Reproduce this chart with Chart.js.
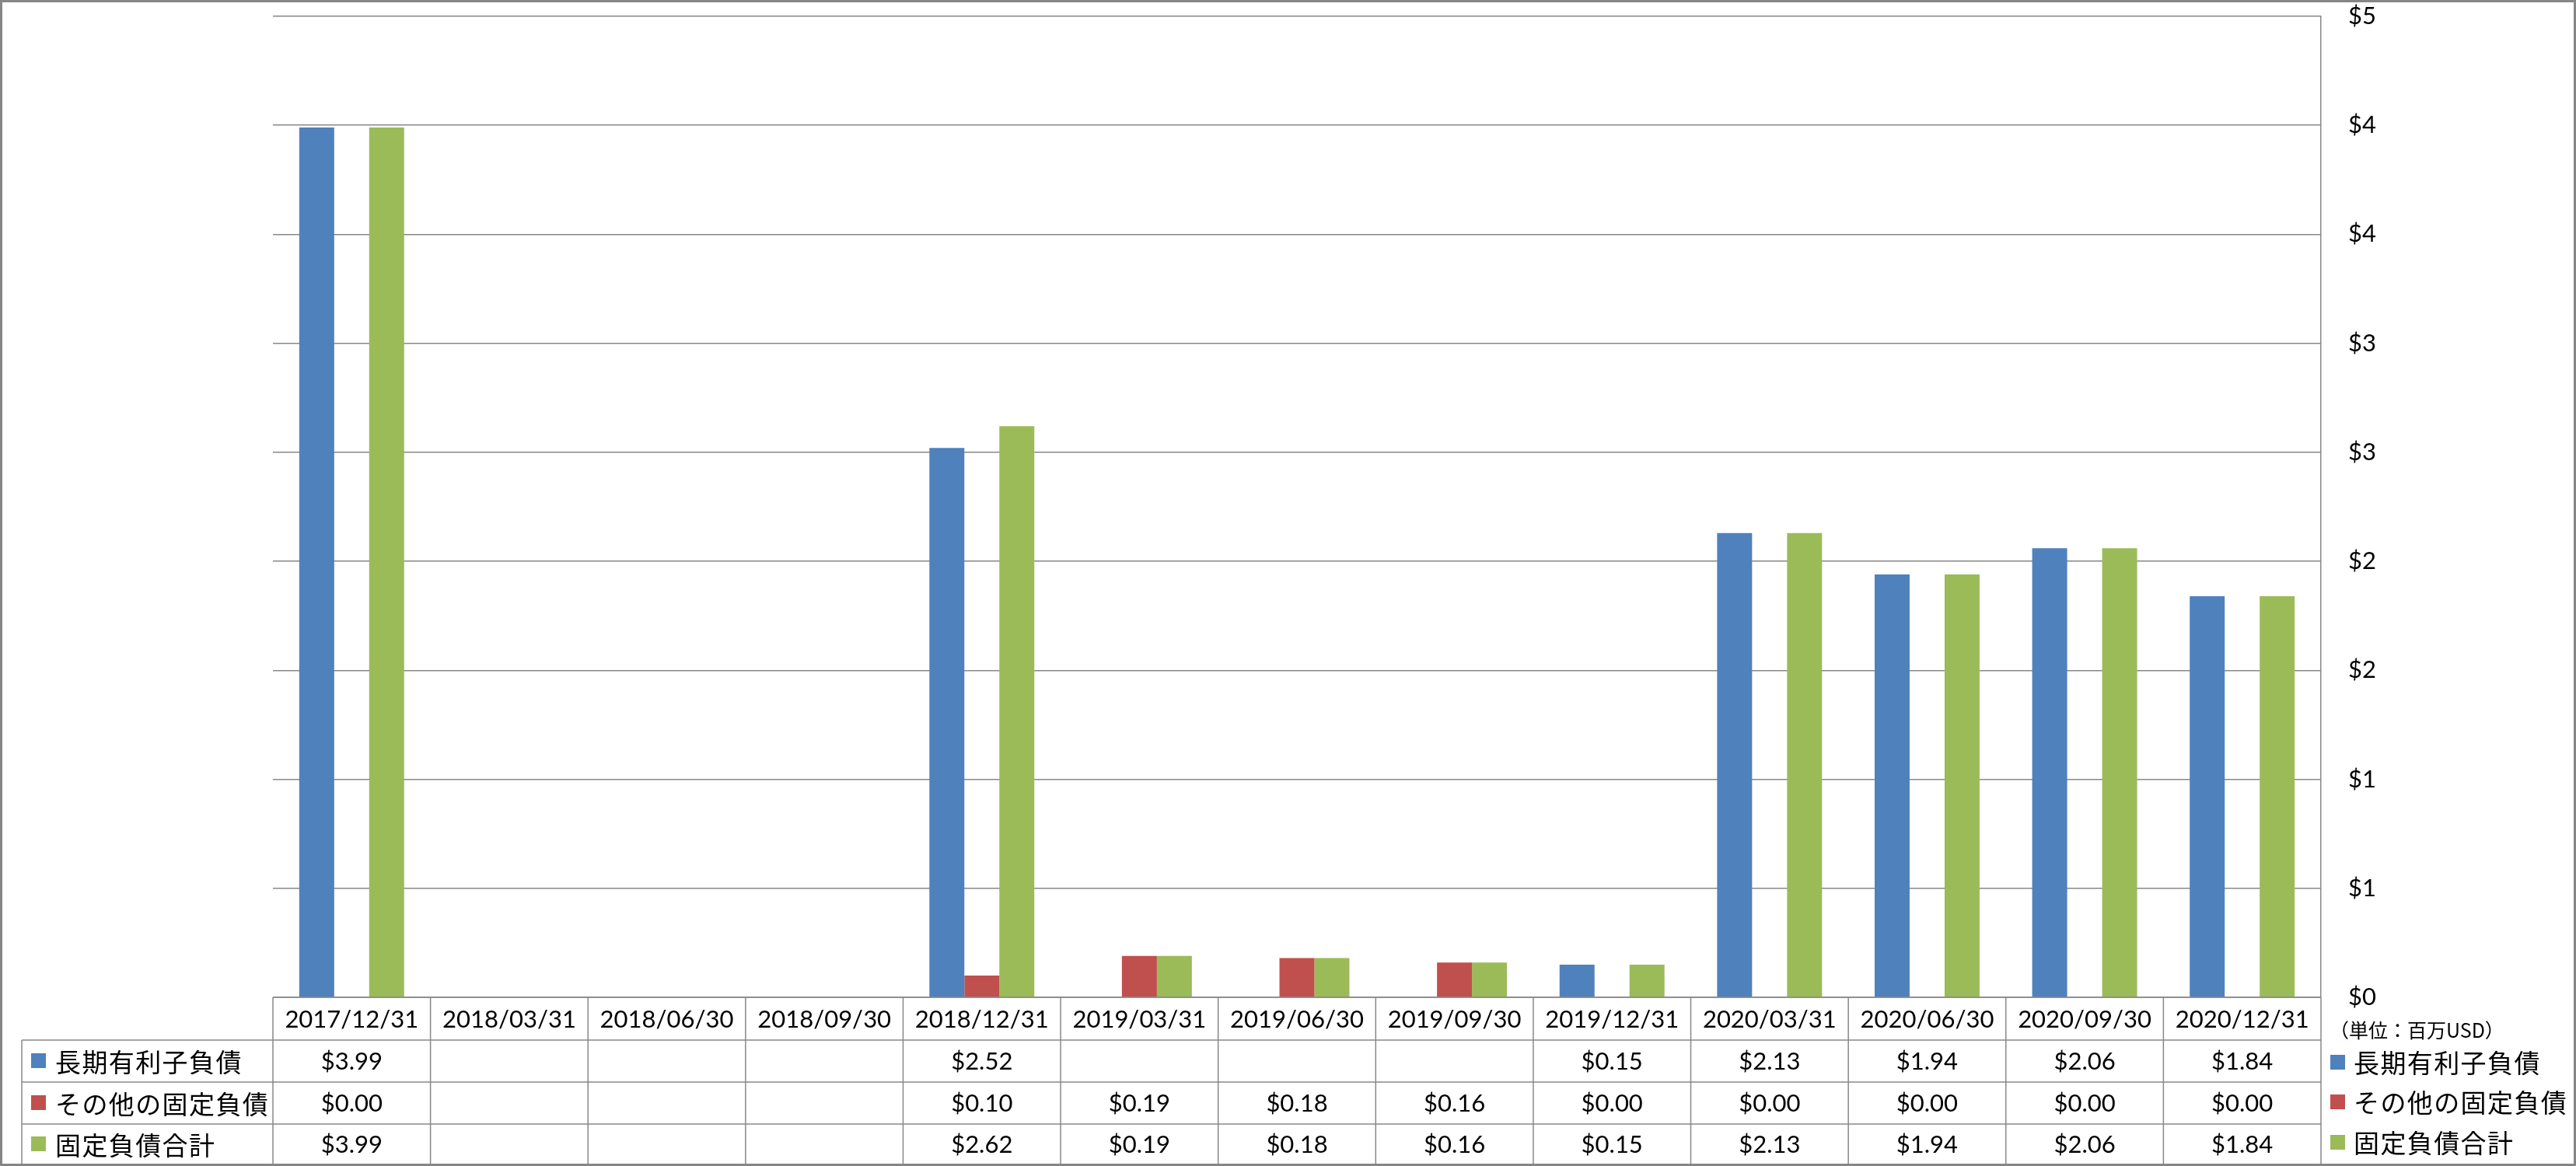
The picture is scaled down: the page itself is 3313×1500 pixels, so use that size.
<!DOCTYPE html>
<html>
<head>
<meta charset="utf-8">
<script src="https://cdn.jsdelivr.net/npm/chart.js@4.4.0/dist/chart.umd.min.js"></script>
<style>
  html, body { margin: 0; padding: 0; background: #fff; }
  canvas { display: block; }
</style>
</head>
<body>
<canvas id="debtChart" width="3313" height="1500"></canvas>
<script>
const periods = ['2017/12/31', '2018/03/31', '2018/06/30', '2018/09/30', '2018/12/31', '2019/03/31',
  '2019/06/30', '2019/09/30', '2019/12/31', '2020/03/31', '2020/06/30', '2020/09/30', '2020/12/31'];
const longTermDebt = [3.99, null, null, null, 2.52, null, null, null, 0.15, 2.13, 1.94, 2.06, 1.84];
const otherFixed = [0.00, null, null, null, 0.10, 0.19, 0.18, 0.16, 0.00, 0.00, 0.00, 0.00, 0.00];
const totalFixed = [3.99, null, null, null, 2.62, 0.19, 0.18, 0.16, 0.15, 2.13, 1.94, 2.06, 1.84];
const seriesNames = ['長期有利子負債', 'その他の固定負債', '固定負債合計'];
const seriesColors = ['#4F81BD', '#C0504D', '#9BBB59'];
const unitLabel = '（単位：百万USD）';

const lineColor = '#888888';
const numFont = '31px Lato';
const jpFont = '33px "Noto Sans CJK JP"';

// data table under the plot + legend on the right, drawn from the arrays above
const tablePlugin = {
  id: 'dataTable',
  afterDraw(chart) {
    const ctx = chart.ctx;
    const xs = chart.scales.x;
    const area = chart.chartArea;
    const colW = (area.right - area.left) / periods.length;
    const tableLeft = 28;
    const rowTops = [1338, 1392, 1446];
    const tableBottom = 1498;
    const rows = [longTermDebt, otherFixed, totalFixed];

    function line(x1, y1, x2, y2) {
      ctx.beginPath();
      ctx.moveTo(x1, y1);
      ctx.lineTo(x2, y2);
      ctx.stroke();
    }

    ctx.save();
    ctx.strokeStyle = lineColor;
    ctx.lineWidth = 1.5;
    line(area.left, area.bottom, area.right, area.bottom);
    rowTops.forEach(y => line(tableLeft, y, area.right, y));
    for (let i = 0; i <= periods.length; i++) {
      const px = area.left + i * colW;
      line(px, area.bottom, px, tableBottom);
    }
    line(tableLeft, rowTops[0], tableLeft, tableBottom);

    ctx.fillStyle = '#000';
    ctx.textBaseline = 'middle';
    ctx.textAlign = 'center';
    ctx.font = numFont;
    const headMid = (area.bottom + rowTops[0]) / 2 + 1;
    periods.forEach((p, i) => ctx.fillText(p, xs.getPixelForValue(i), headMid));

    rows.forEach((vals, r) => {
      const top = rowTops[r];
      const bottom = r < rowTops.length - 1 ? rowTops[r + 1] : tableBottom;
      const mid = (top + bottom) / 2 + 1;
      ctx.textAlign = 'center';
      ctx.font = numFont;
      ctx.fillStyle = '#000';
      vals.forEach((v, i) => {
        if (v === null) return;
        ctx.fillText('$' + v.toFixed(2), xs.getPixelForValue(i), mid);
      });
      ctx.fillStyle = seriesColors[r];
      ctx.fillRect(40, mid - 11, 19, 19);
      ctx.fillStyle = '#000';
      ctx.textAlign = 'left';
      ctx.font = jpFont;
      ctx.letterSpacing = '1.4px';
      ctx.fillText(seriesNames[r], 71, mid);
      ctx.letterSpacing = '0px';
    });

    // legend + unit label right of the axis
    ctx.font = '25px "Noto Sans CJK JP"';
    ctx.textAlign = 'left';
    ctx.fillText(unitLabel, 2996, 1325);
    const legendYs = [1367, 1418, 1470];
    seriesNames.forEach((name, r) => {
      ctx.fillStyle = seriesColors[r];
      ctx.fillRect(2997, legendYs[r] - 10, 19, 19);
      ctx.fillStyle = '#000';
      ctx.font = jpFont;
      ctx.letterSpacing = '1.4px';
      ctx.fillText(name, 3027, legendYs[r]);
      ctx.letterSpacing = '0px';
    });

    // outer frame
    ctx.strokeStyle = '#868686';
    ctx.lineWidth = 3;
    ctx.strokeRect(1.5, 1.5, chart.width - 3, chart.height - 3);
    ctx.restore();
  }
};

new Chart(document.getElementById('debtChart'), {
  type: 'bar',
  data: {
    labels: periods,
    datasets: [
      { label: seriesNames[0], data: longTermDebt, backgroundColor: seriesColors[0] },
      { label: seriesNames[1], data: otherFixed, backgroundColor: seriesColors[1] },
      { label: seriesNames[2], data: totalFixed, backgroundColor: seriesColors[2] }
    ]
  },
  options: {
    responsive: false,
    animation: false,
    devicePixelRatio: 1,
    layout: { padding: { left: 351, top: 21, right: 0, bottom: 217 } },
    datasets: { bar: { categoryPercentage: 0.666, barPercentage: 1.0, borderWidth: 0 } },
    plugins: {
      legend: { display: false },
      title: { display: false },
      tooltip: { enabled: false }
    },
    scales: {
      x: { display: false },
      y: {
        position: 'right',
        min: 0,
        max: 4.5,
        afterFit: s => {
          s.width = 328;
          s.paddingTop = 0;
          s.paddingBottom = 0;
        },
        grid: { color: lineColor, lineWidth: 1.5, drawTicks: false },
        border: { display: true, color: lineColor, width: 1.5 },
        ticks: {
          stepSize: 0.5,
          padding: 35,
          color: '#000',
          font: { family: 'Lato', size: 31 },
          callback: v => '$' + Math.round(v)
        }
      }
    }
  },
  plugins: [tablePlugin]
});
</script>
</body>
</html>
